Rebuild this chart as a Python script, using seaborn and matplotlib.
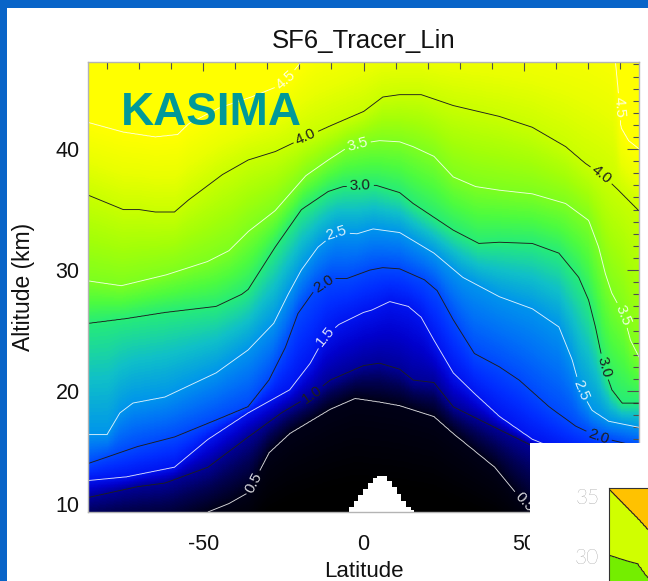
import numpy as np
import matplotlib
matplotlib.use("Agg")
import matplotlib.pyplot as plt
from matplotlib.patches import Rectangle
from matplotlib.ticker import MultipleLocator
import seaborn as sns

# ---------------- data ----------------
TITLE = "SF6_Tracer_Lin"
MODEL = "KASIMA"
X_LABEL = "Latitude"
Y_LABEL = "Altitude (km)"
X_TICKS = [-50, 0, 50]
Y_TICKS = [10, 20, 30, 40]

LEVELS = [0.5, 1.0, 1.5, 2.0, 2.5, 3.0, 3.5, 4.0, 4.5]

# contour lines: latitude (deg) / altitude (km) points of each level
C05_LAT = [-86, -60, -48.6, -42, -36, -29.5, -23, -10.4, -2.6, 5, 11.3, 22, 28, 41, 47.5, 53, 60, 86]
C05_ALT = [8.0, 8.8, 10.0, 10.7, 11.6, 14.9, 16.5, 18.5, 19.4, 19.1, 18.8, 17.9, 16.5, 13.7, 11.6, 10.0, 9.0, 8.5]

C10_LAT = [-86, -70.6, -62, -48.6, -36, -25.6, -16, -10.4, 0, 5, 11.3, 15.5, 22, 28, 41, 51, 60, 70, 86]
C10_ALT = [11.2, 12.1, 12.4, 13.7, 16.2, 18.2, 19.7, 20.9, 22.1, 22.3, 21.8, 20.9, 20.7, 18.7, 17.0, 15.7, 14.5, 13.5, 12.5]

C15_LAT = [-86, -74, -59, -48.6, -36, -23, -16.6, -12, -7.7, 0, 2.6, 8.2, 14, 18, 22, 28, 34.6, 42.4, 52.7, 62, 72, 86]
C15_ALT = [12.6, 12.9, 13.7, 16.0, 18.2, 20.1, 22.3, 24.5, 25.5, 26.5, 26.7, 27.4, 27.0, 26.1, 24.2, 21.5, 19.8, 17.9, 16.0, 15.0, 14.2, 13.5]

C20_LAT = [-86, -70.6, -59, -46, -36, -29.5, -24.4, -20.5, -15.4, -10.4, -5.2, 2, 6, 11.3, 19, 23, 28, 34.6, 42.4, 48.6, 57.9, 66.2, 73.4, 86]
C20_ALT = [14.0, 15.4, 16.2, 17.6, 18.7, 20.9, 23.6, 26.4, 28.3, 29.3, 29.3, 30.0, 30.2, 30.1, 29.2, 28.3, 25.9, 23.1, 22.0, 20.9, 18.7, 17.1, 16.2, 15.4]

C25_LAT = [-86, -80, -76, -72, -62, -46, -36, -28, -23.5, -19.4, -14.2, -8.6, -2, 3, 11.3, 22, 31, 42.4, 52.7, 61, 65.1, 67.7, 71.3, 76.5, 86]
C25_ALT = [16.4, 16.4, 18.2, 19.0, 19.5, 21.5, 23.4, 25.6, 28.0, 30.0, 31.9, 33.1, 33.0, 33.4, 33.1, 31.4, 29.4, 27.8, 26.8, 25.3, 22.6, 20.1, 18.4, 17.5, 17.0]

C30_LAT = [-86, -74, -62, -46, -38, -36, -27.6, -19.4, -11, -6.4, 0, 4, 11.3, 15.5, 28, 36, 42.4, 52.7, 61, 67.2, 70.3, 72.4, 75, 77.5, 80.7, 86]
C30_ALT = [25.6, 26.0, 26.5, 27.0, 28.0, 28.4, 31.9, 35.0, 36.5, 36.9, 37.0, 37.0, 36.4, 35.5, 33.3, 32.2, 32.3, 32.2, 31.4, 29.4, 27.5, 25.3, 22.0, 20.1, 19.0, 19.0]

C35_LAT = [-86, -75.6, -61.6, -48.7, -42, -35.9, -27.6, -18, -11, -5.2, 0, 5, 11.3, 15.5, 22, 28, 35, 42.4, 52.7, 63.1, 70.3, 73.4, 75.5, 77.5, 81.2, 83.3, 86]
C35_ALT = [29.1, 28.7, 29.6, 30.7, 31.6, 33.2, 34.9, 37.8, 39.1, 40.1, 40.5, 40.7, 40.6, 40.2, 39.4, 37.7, 36.9, 36.6, 36.3, 35.5, 34.1, 31.9, 29.7, 28.1, 26.3, 24.2, 22.8]

C40_LAT = [-86, -75, -70, -65, -59, -54.6, -44, -36, -27.5, -18, -10.5, 0, 6, 11.3, 18, 28, 42.4, 52.7, 63.1, 69.3, 74.4, 79.6, 86]
C40_ALT = [36.2, 35.0, 35.0, 34.8, 34.8, 35.8, 37.9, 39.1, 39.8, 41.0, 41.9, 43.1, 44.3, 44.5, 44.5, 43.6, 42.7, 41.8, 40.2, 38.8, 37.9, 36.6, 34.9]

C45_LAT = [-86, -75, -65, -58, -54.5, -45, -35, -27.5, -24, -19.5, -15, 0, 40, 70, 78, 79.6, 80.3, 82.7, 86]
C45_ALT = [42.2, 41.4, 41.0, 41.2, 42.1, 43.4, 44.3, 45.1, 45.7, 47.2, 48.5, 50.0, 50.0, 50.0, 49.0, 44.5, 41.8, 40.7, 40.0]

# field value below / above all contours
BOTTOM_ALT, BOTTOM_VAL = 5.0, 0.0
TOP_ALT, TOP_VAL = 60.0, 5.0

# region without data (white), cells in latitude with their top altitude
MASK_EDGES = [-4.5, -3, -1.5, 0, 1.5, 3, 4.5, 6, 7.5, 9, 10.5, 12, 13.5, 15, 16]
MASK_TOPS = [10.4, 10.9, 11.4, 11.9, 12.4, 12.8, 12.95, 12.95, 12.6, 12.1, 11.5, 10.9, 10.4, 10.15]

# partially visible second chart (bottom right)
INSET_LAT = [-90, -85, -80, -76.6, -70, -60]
INSET_LOW = [30.05, 29.7, 29.4, 28.4, 27.5, 26.5]
INSET_HIGH = [34.9, 33.8, 32.7, 31.9, 30.5, 28.5]
INSET_YTICKS = [30, 35]

# ---------------- style ----------------
sns.set_theme(style="white")
plt.rcParams["font.family"] = ["Liberation Sans", "DejaVu Sans"]
plt.rcParams["axes.unicode_minus"] = False

cmap = sns.blend_palette(
    ["#000000", "#000000", "#000018", "#000050", "#000098", "#0000cc",
     "#0014f0", "#002cff", "#0048ff", "#0070f8", "#0094ec", "#10c0c8",
     "#26ec78", "#4cfc40", "#7cff20", "#a4ff08", "#c8ff00", "#eaff00",
     "#ffff00"], as_cmap=True)
cmap.set_bad("white")

XLIM = (-86, 86)
YLIM = (10, 47.2)

# ---------------- build field ----------------
lat_f = np.linspace(XLIM[0], XLIM[1], 689)
alt_f = np.linspace(YLIM[0], YLIM[1], 745)
lat_lists = [C05_LAT, C10_LAT, C15_LAT, C20_LAT, C25_LAT, C30_LAT, C35_LAT, C40_LAT, C45_LAT]
alt_lists = [C05_ALT, C10_ALT, C15_ALT, C20_ALT, C25_ALT, C30_ALT, C35_ALT, C40_ALT, C45_ALT]
lev_alt = np.array([np.interp(lat_f, la, al) for la, al in zip(lat_lists, alt_lists)])
vals = np.array([BOTTOM_VAL] + LEVELS + [TOP_VAL])
field = np.empty((alt_f.size, lat_f.size))
for j in range(lat_f.size):
    xp = np.concatenate([[BOTTOM_ALT], lev_alt[:, j], [TOP_ALT]])
    xp = np.maximum.accumulate(xp + np.arange(xp.size) * 1e-6)
    field[:, j] = np.interp(alt_f, xp, vals)

idx = np.searchsorted(MASK_EDGES, lat_f, side="right") - 1
ok = (idx >= 0) & (idx < len(MASK_TOPS))
tops = np.where(ok, np.array(MASK_TOPS)[np.clip(idx, 0, len(MASK_TOPS) - 1)], -np.inf)
mask = alt_f[:, None] < tops[None, :]
field = np.ma.array(field, mask=mask)

# ---------------- figure ----------------
W, H = 648, 581
fig = plt.figure(figsize=(W / 100, H / 100), dpi=100, facecolor="#0864c8")
fig.add_artist(Rectangle((7 / W, 0), 1, (H - 8) / H, transform=fig.transFigure,
                         facecolor="white", edgecolor="none", zorder=-5))

ax_l, ax_r, ax_t, ax_b = 88, 639, 62, 512
ax = fig.add_axes([ax_l / W, 1 - ax_b / H, (ax_r - ax_l) / W, (ax_b - ax_t) / H])
ax.set_facecolor("white")
ax.imshow(field, extent=(XLIM[0], XLIM[1], YLIM[0], YLIM[1]), origin="lower",
          aspect="auto", cmap=cmap, vmin=0, vmax=4.5, interpolation="nearest", zorder=0)

black_lv = [l for l in LEVELS if abs(l - round(l)) < 1e-6]
white_lv = [l for l in LEVELS if abs(l - round(l)) > 1e-6]
cs_b = ax.contour(lat_f, alt_f, field, levels=black_lv, colors="#1e1e1e", linewidths=0.65, zorder=2)
cs_w = ax.contour(lat_f, alt_f, field, levels=white_lv, colors="white", linewidths=0.65,
                  alpha=0.85, zorder=2)
ax.clabel(cs_b, fmt="%.1f", fontsize=11, inline=True, inline_spacing=3,
          manual=[(-18, 41.0), (74.4, 37.9), (-1, 37.0), (75, 22.0),
                  (-12.5, 28.9), (73.4, 16.2), (-16, 19.7)])
ax.clabel(cs_w, fmt="%.1f", fontsize=11, inline=True, inline_spacing=3,
          manual=[(-24, 45.6), (80, 43.5), (-2, 40.5), (81.2, 26.3),
                  (-8.5, 33.1), (67.7, 20.1), (-12, 24.5), (-34, 12.4), (51.5, 11.2)])

ax.set_xlim(*XLIM)
ax.set_ylim(*YLIM)
ax.set_xticks(X_TICKS)
ax.set_yticks(Y_TICKS)
ax.xaxis.set_minor_locator(MultipleLocator(10))
ax.yaxis.set_minor_locator(MultipleLocator(1))
ax.tick_params(which="both", direction="in", top=True, right=True, color="#505050",
               width=0.8, labelsize=15.5, labelcolor="#111111")
ax.tick_params(axis="x", which="major", length=6.5, pad=16)
ax.tick_params(axis="x", which="minor", length=5)
ax.tick_params(axis="y", which="major", length=8.5, pad=6)
ax.tick_params(axis="y", which="minor", length=4.5)
for lab in ax.get_yticklabels():
    if lab.get_text() == "10":
        lab.set_va("baseline")
for s in ax.spines.values():
    s.set_color("#b4b4b4")
    s.set_linewidth(1.0)
    s.set_zorder(3)

ax.set_title(TITLE, fontsize=18.5, pad=10, color="#111111")
ax.set_xlabel(X_LABEL, fontsize=16, color="#111111")
ax.set_ylabel(Y_LABEL, fontsize=16.5, color="#111111")
ax.xaxis.set_label_coords(0.5, -0.109)
ax.yaxis.set_label_coords(-0.096, 0.5)

ax.text((121 - ax_l) / (ax_r - ax_l), (ax_b - 125) / (ax_b - ax_t), MODEL,
        transform=ax.transAxes, fontsize=33, fontweight="bold", color="#009999",
        ha="left", va="baseline", zorder=5)

# ---------------- second (cut-off) chart ----------------
fig.add_artist(Rectangle((530 / W, 0), 1, (H - 443) / H, transform=fig.transFigure,
                         facecolor="white", edgecolor="none", zorder=1))
i_top = 487.7
i_scale = 13.6  # px per km
i_bottom_px = i_top + 10 * i_scale
ax2 = fig.add_axes([609 / W, 1 - i_bottom_px / H, 522 / W, (i_bottom_px - i_top) / H])
ax2.set_zorder(2)
lat_i = np.linspace(-90, 90, 181)
alt_i = np.linspace(25, 35, 201)
low = np.interp(lat_i, INSET_LAT, INSET_LOW)
high = np.interp(lat_i, INSET_LAT, INSET_HIGH)
fi = np.empty((alt_i.size, lat_i.size))
for j in range(lat_i.size):
    fi[:, j] = np.interp(alt_i, [20, low[j], high[j], 40], [0, 1, 2, 3])
ax2.contourf(lat_i, alt_i, fi, levels=[-1, 1, 2, 4], colors=["#74ee00", "#d0ff00", "#ffc200"])
ax2.contour(lat_i, alt_i, fi, levels=[1, 2], colors="#222222", linewidths=0.8)
ax2.set_xlim(-90, 90)
ax2.set_ylim(25, 35)
ax2.set_yticks(INSET_YTICKS)
ax2.set_xticks([-80])
ax2.set_xticklabels([])
ax2.yaxis.set_minor_locator(MultipleLocator(1))
ax2.tick_params(which="both", direction="in", top=True, bottom=False, color="#333333", width=0.8)
ax2.tick_params(axis="y", which="major", length=8, pad=7, labelsize=15, labelcolor="#6a6a6a")
ax2.tick_params(axis="y", which="minor", length=4.5)
ax2.tick_params(axis="x", which="major", length=6.5)
for lab in ax2.get_yticklabels():
    lab.set_fontfamily(["Lato", "DejaVu Sans"])
    lab.set_fontweight("light")
    if lab.get_text() == "35":
        lab.set_va("top")
for s in ax2.spines.values():
    s.set_color("#333333")
    s.set_linewidth(0.8)

fig.savefig("out.png", dpi=100, facecolor=fig.get_facecolor())
